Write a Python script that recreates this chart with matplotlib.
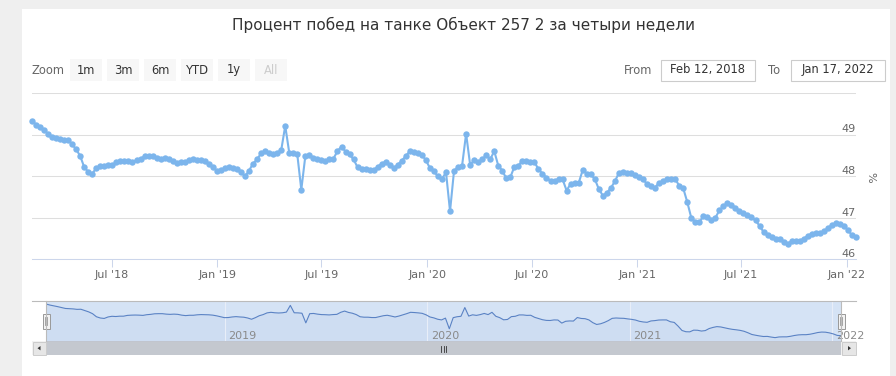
import matplotlib
matplotlib.use("Agg")
import matplotlib.pyplot as plt
from matplotlib.patches import Rectangle, Polygon
from matplotlib.lines import Line2D
import matplotlib.transforms as mtransforms
import pandas as pd

# ---------------- data ----------------
chart_title = "Процент побед на танке Объект 257 2 за четыри недели"
start_date = "2018-02-12"
end_date = "2022-01-17"
dates = pd.date_range(start_date, end_date, freq="7D")

win_rate_2018 = [49.33, 49.24, 49.17, 49.10, 49.02, 48.94, 48.92, 48.90, 48.86, 48.87,
                 48.76, 48.64, 48.48, 48.21, 48.10, 48.06, 48.19, 48.25, 48.23, 48.26,
                 48.26, 48.33, 48.35, 48.36, 48.35, 48.33, 48.39, 48.42, 48.47, 48.48,
                 48.48, 48.44, 48.42, 48.44, 48.42, 48.35, 48.31, 48.34, 48.34, 48.38,
                 48.40]
win_rate_2019 = [48.39, 48.38, 48.35, 48.29, 48.21, 48.13, 48.14, 48.19, 48.22, 48.19,
                 48.17, 48.10, 47.99, 48.13, 48.30, 48.40, 48.55, 48.60, 48.56, 48.54,
                 48.56, 48.62, 49.21, 48.56, 48.55, 48.52, 47.67, 48.48, 48.50, 48.44,
                 48.40, 48.39, 48.37, 48.40, 48.42, 48.60, 48.71, 48.59, 48.52, 48.40,
                 48.21, 48.17]
win_rate_2020a = [48.17, 48.14, 48.14, 48.22, 48.30, 48.34, 48.27, 48.19, 48.27, 48.37,
                  48.48, 48.60, 48.58, 48.55, 48.51, 48.38, 48.19, 48.11, 47.99, 47.93,
                  48.09, 47.15, 48.13, 48.21, 48.25, 49.02, 48.27, 48.38, 48.33, 48.40,
                  48.50, 48.40, 48.60, 48.25, 48.13, 47.94, 47.97, 48.22, 48.25, 48.37,
                  48.37, 48.33]
win_rate_2020b = [48.34, 48.16, 48.06, 47.95, 47.89, 47.88, 47.93, 47.92, 47.65, 47.81,
                  47.84, 47.83, 48.14, 48.06, 48.04, 47.93, 47.69, 47.53, 47.59, 47.71,
                  47.87, 48.07, 48.10, 48.08, 48.07, 48.02, 47.98, 47.92, 47.81, 47.75,
                  47.72, 47.84, 47.87, 47.92, 47.93, 47.93, 47.77, 47.71, 47.38, 47.00,
                  46.89, 46.88]
win_rate_2021 = [47.03, 47.02, 46.95, 46.99, 47.17, 47.27, 47.34, 47.31, 47.23, 47.16,
                 47.10, 47.06, 47.01, 46.93, 46.80, 46.65, 46.58, 46.52, 46.47, 46.48,
                 46.42, 46.37, 46.43, 46.44, 46.44, 46.49, 46.56, 46.61, 46.63, 46.63,
                 46.67, 46.74, 46.82, 46.86, 46.85, 46.79, 46.70, 46.57, 46.54]
win_rate = win_rate_2018 + win_rate_2019 + win_rate_2020a + win_rate_2020b + win_rate_2021

y_ticks = [46, 47, 48, 49, 50]
y_axis_title = "%"
x_tick_dates = pd.to_datetime(["2018-07-01", "2019-01-01", "2019-07-01", "2020-01-01",
                               "2020-07-01", "2021-01-01", "2021-07-01", "2022-01-01"])
x_tick_labels = ["Jul '18", "Jan '19", "Jul '19", "Jan '20", "Jul '20", "Jan '21",
                 "Jul '21", "Jan '22"]
nav_year_dates = pd.to_datetime(["2019-01-01", "2020-01-01", "2021-01-01", "2022-01-01"])
nav_year_labels = ["2019", "2020", "2021", "2022"]
zoom_buttons = ["1m", "3m", "6m", "YTD", "1y", "All"]
from_text = "Feb 12, 2018"
to_text = "Jan 17, 2022"

# ---------------- style ----------------
W, H = 896, 376
plt.rcParams["font.family"] = ["DejaVu Sans"]
LINE = "#7cb5ec"
GRID = "#dedede"
AXIS = "#ccd6eb"
LABEL = "#666666"

fig = plt.figure(figsize=(W / 100, H / 100), dpi=100, facecolor="#efefef")


def px_axes(x0, y0, x1, y1, z):
    a = fig.add_axes([x0 / W, 1 - y1 / H, (x1 - x0) / W, (y1 - y0) / H])
    a.set_zorder(z)
    return a


# background / UI layer
bg = px_axes(0, 0, W, H, 0)
bg.set_xlim(0, W)
bg.set_ylim(H, 0)
bg.axis("off")
bg.add_patch(Rectangle((22, 9), 868, 367, fc="white", ec="none"))
bg.text(463, 25, chart_title, ha="center", va="center", fontsize=11, color="#333333")

# range selector
bg.text(32, 70, "Zoom", ha="left", va="center", fontsize=8.3, color=LABEL)
bx = 70
for lab in zoom_buttons:
    bg.add_patch(Rectangle((bx, 59), 32, 22, fc="#f7f7f7", ec="none"))
    bg.text(bx + 16, 70, lab, ha="center", va="center", fontsize=8.3,
            color="#cccccc" if lab == "All" else "#333333")
    bx += 37

bg.text(652, 70, "From", ha="right", va="center", fontsize=8.3, color=LABEL)
bg.add_patch(Rectangle((660.5, 59.5), 94, 21, fc="white", ec="#cccccc", lw=0.8))
bg.text(707.5, 70, from_text, ha="center", va="center", fontsize=8.3, color="#333333")
bg.text(780, 70, "To", ha="right", va="center", fontsize=8.3, color=LABEL)
bg.add_patch(Rectangle((790.5, 59.5), 94, 21, fc="white", ec="#cccccc", lw=0.8))
bg.text(837.5, 70, to_text, ha="center", va="center", fontsize=8.3, color="#333333")

# scrollbar
bg.add_patch(Rectangle((32, 341), 824, 14, fc="#f2f2f2", ec="none"))
bg.add_patch(Rectangle((46, 341), 795, 14, fc="#c4c8cf", ec="none"))
bg.add_patch(Rectangle((32.5, 341.5), 13.5, 13.5, fc="#e6e6e6", ec="#cccccc", lw=0.7))
bg.add_patch(Rectangle((841.5, 341.5), 14, 13.5, fc="#e6e6e6", ec="#cccccc", lw=0.7))
bg.add_patch(Polygon([(37.5, 348.2), (40.5, 346), (40.5, 350.4)], closed=True, fc="#333333", ec="none"))
bg.add_patch(Polygon([(851, 348.2), (848, 346), (848, 350.4)], closed=True, fc="#333333", ec="none"))
gx = (46 + 841) / 2
for dx in (-2.5, 0, 2.5):
    bg.add_line(Line2D([gx + dx, gx + dx], [345.5, 351.5], color="#333333", lw=0.6))

# ---------------- main chart ----------------
ax = px_axes(32, 93, 856, 259, 2)
ax.set_facecolor("none")
ax.plot(dates, win_rate, color=LINE, lw=1.5, marker="o", ms=4.6, mec=LINE, mew=0,
        clip_on=False, zorder=3)
ax.set_xlim(dates[0], dates[-1])
ax.set_ylim(y_ticks[0], y_ticks[-1])
ax.set_yticks(y_ticks)
ax.yaxis.grid(True, color=GRID, lw=0.75)
ax.tick_params(axis="y", left=False, labelleft=False)
ax.set_xticks(x_tick_dates)
ax.set_xticklabels(x_tick_labels)
ax.tick_params(axis="x", length=6, width=0.75, color=AXIS, labelsize=8,
               labelcolor=LABEL, pad=2)
for s in ("left", "right", "top"):
    ax.spines[s].set_visible(False)
ax.spines["bottom"].set_color(AXIS)
ax.spines["bottom"].set_linewidth(0.75)
ax.spines["bottom"].set_zorder(2.5)
ytr = ax.get_yaxis_transform()
for v in y_ticks[:-1]:
    ax.text(1.0, v, f"{v}", transform=ytr, ha="right", va="bottom", fontsize=8,
            color=LABEL, clip_on=False)
bg.text(870, 177, y_axis_title, ha="center", va="center", rotation=270, fontsize=8,
        color=LABEL)

# ---------------- navigator ----------------
nav = px_axes(46, 301, 841, 341, 2)
nav.set_facecolor("#d5e3f5")
span = max(win_rate) - min(win_rate)
nlo = min(win_rate) - 0.1 * span
nhi = max(win_rate) + 0.09 * span
nav.fill_between(dates, win_rate, nlo, color="#335cad", alpha=0.04, lw=0)
nav.plot(dates, win_rate, color="#5a82c4", lw=0.8)
nav.set_xlim(dates[0], dates[-1])
nav.set_ylim(nlo, nhi)
nav.set_yticks([])
nav.set_xticks(nav_year_dates)
nav.xaxis.grid(True, color="#e8eef8", lw=0.8)
nav.tick_params(axis="x", length=0, labelbottom=False)
for s in nav.spines.values():
    s.set_visible(False)
off = mtransforms.offset_copy(nav.get_xaxis_transform(), fig=fig, x=3.5, y=0, units="dots")
for d, lab in zip(nav_year_dates, nav_year_labels):
    nav.text(d, 0.0, lab, transform=off, ha="left", va="bottom", fontsize=8,
             color="#8a8a8a", clip_on=False)

# foreground: outline + handles
fg = px_axes(0, 0, W, H, 5)
fg.set_xlim(0, W)
fg.set_ylim(H, 0)
fg.axis("off")
fg.add_line(Line2D([32, 856], [301, 301], color="#bbbbbb", lw=0.8))
for hx in (46, 841):
    fg.add_line(Line2D([hx, hx], [301, 341], color="#bbbbbb", lw=0.8))
    fg.add_patch(Rectangle((hx - 3.5, 313.5), 7, 15, fc="#f2f2f2", ec="#999999", lw=0.7))
    for dx in (-1.2, 1.2):
        fg.add_line(Line2D([hx + dx, hx + dx], [317, 325], color="#999999", lw=0.6))

fig.savefig("out.png", dpi=100, facecolor=fig.get_facecolor())
